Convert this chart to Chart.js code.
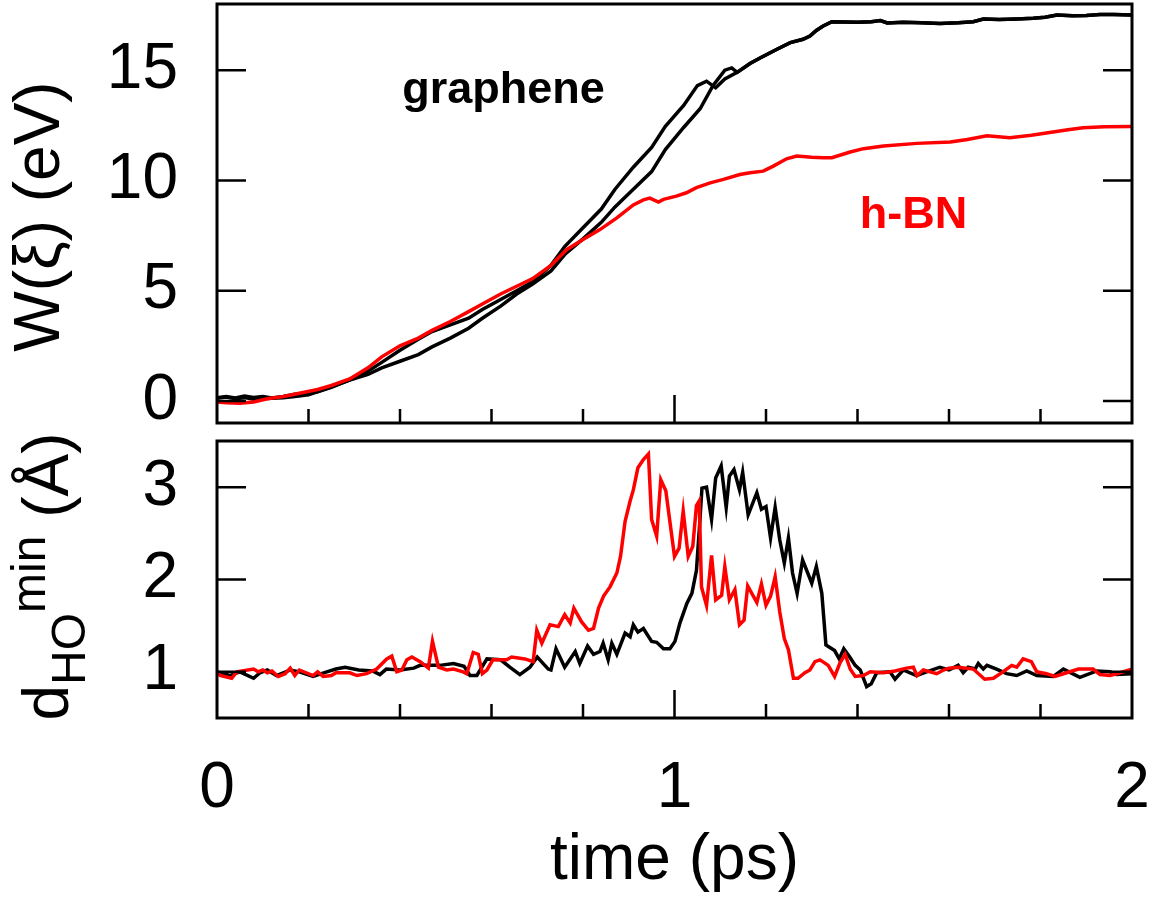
<!DOCTYPE html>
<html>
<head>
<meta charset="utf-8">
<script src="https://cdn.jsdelivr.net/npm/chart.js@4.4.1/dist/chart.umd.min.js"></script>
<style>
  body { margin: 0; background: #fff; }
  #wrap { position: relative; width: 1168px; height: 900px; }
  canvas { position: absolute; left: 0; }
</style>
</head>
<body>
<div id="wrap">
  <canvas id="wChart" width="1168" height="432" style="top:0"></canvas>
  <canvas id="dChart" width="1168" height="468" style="top:432px"></canvas>
</div>
<script>
// top panel: W(xi) for graphene (two runs) and h-BN
const wTimeGrA = [0, 0.02, 0.04, 0.06, 0.08, 0.1, 0.12, 0.145, 0.17, 0.2, 0.22, 0.25, 0.29, 0.33, 0.36, 0.40, 0.44, 0.47, 0.51, 0.55, 0.58, 0.62, 0.655, 0.69, 0.73, 0.76, 0.80, 0.84, 0.87, 0.91, 0.95, 0.98, 1.02, 1.05, 1.07, 1.09, 1.11];
const wGrA = [0.15, 0.2, 0.14, 0.22, 0.16, 0.2, 0.13, 0.2, 0.3, 0.33, 0.42, 0.62, 0.95, 1.35, 1.75, 2.3, 2.8, 3.15, 3.45, 3.75, 4.15, 4.6, 5.0, 5.4, 6.15, 7.0, 7.85, 8.7, 9.6, 10.6, 11.5, 12.45, 13.4, 14.3, 14.5, 14.2, 14.6];
const wTimeGrB = [0, 0.02, 0.04, 0.06, 0.08, 0.1, 0.12, 0.145, 0.17, 0.2, 0.22, 0.25, 0.29, 0.33, 0.36, 0.40, 0.44, 0.47, 0.51, 0.55, 0.58, 0.62, 0.655, 0.69, 0.73, 0.76, 0.80, 0.84, 0.87, 0.91, 0.95, 0.98, 1.02, 1.056, 1.084, 1.11, 1.125];
const wGrB = [0.12, 0.18, 0.1, 0.15, 0.08, 0.1, 0.12, 0.15, 0.2, 0.28, 0.42, 0.65, 0.95, 1.2, 1.5, 1.8, 2.1, 2.45, 2.85, 3.3, 3.75, 4.3, 4.85, 5.3, 5.9, 6.64, 7.35, 8.1, 8.8, 9.6, 10.4, 11.4, 12.4, 13.25, 14.3, 15.0, 15.1];
// both graphene runs follow the same path after ~1.13 ps
const wTimeGrTail = [1.137, 1.165, 1.187, 1.224, 1.253, 1.281, 1.296, 1.31, 1.325, 1.344, 1.37, 1.40, 1.43, 1.45, 1.465, 1.50, 1.54, 1.58, 1.62, 1.653, 1.675, 1.71, 1.748, 1.784, 1.81, 1.836, 1.87, 1.90, 1.93, 1.96, 2.0];
const wGrTail = [14.9, 15.3, 15.55, 15.95, 16.25, 16.4, 16.55, 16.8, 17.0, 17.2, 17.18, 17.17, 17.2, 17.25, 17.14, 17.17, 17.15, 17.12, 17.15, 17.2, 17.32, 17.3, 17.32, 17.35, 17.4, 17.5, 17.47, 17.48, 17.52, 17.52, 17.5];
const wTimeBN = [0, 0.02, 0.05, 0.08, 0.11, 0.145, 0.18, 0.22, 0.25, 0.27, 0.29, 0.33, 0.36, 0.40, 0.44, 0.47, 0.51, 0.55, 0.58, 0.62, 0.655, 0.69, 0.73, 0.764, 0.80, 0.837, 0.874, 0.91, 0.932, 0.946, 0.965, 0.976, 1.004, 1.026, 1.048, 1.078, 1.107, 1.143, 1.165, 1.194, 1.216, 1.245, 1.267, 1.30, 1.325, 1.344, 1.384, 1.413, 1.457, 1.53, 1.603, 1.64, 1.683, 1.733, 1.78, 1.82, 1.86, 1.893, 1.94, 2.0];
const wBN = [-0.05, -0.08, -0.1, -0.05, 0.1, 0.2, 0.35, 0.52, 0.7, 0.85, 1.0, 1.5, 2.0, 2.5, 2.85, 3.2, 3.6, 4.05, 4.4, 4.85, 5.2, 5.55, 6.15, 6.86, 7.32, 7.77, 8.3, 8.89, 9.12, 9.2, 9.02, 9.14, 9.29, 9.44, 9.67, 9.89, 10.05, 10.27, 10.35, 10.42, 10.65, 10.98, 11.11, 11.05, 11.03, 11.03, 11.29, 11.44, 11.56, 11.68, 11.74, 11.86, 12.02, 11.94, 12.05, 12.17, 12.3, 12.39, 12.43, 12.44];

// bottom panel: minimum H-O distance
const dTimeGr = [0, 0.028, 0.05, 0.08, 0.094, 0.11, 0.13, 0.16, 0.18, 0.21,
  0.24, 0.26, 0.28, 0.31, 0.34, 0.356, 0.37, 0.40, 0.43, 0.444,
  0.487, 0.517, 0.54, 0.553, 0.568, 0.59, 0.62, 0.64, 0.662, 0.684,
  0.70, 0.724, 0.73, 0.741, 0.76, 0.783, 0.793, 0.81, 0.823, 0.837,
  0.844, 0.855, 0.863, 0.874, 0.892, 0.903, 0.91, 0.92, 0.932, 0.95,
  0.961, 0.976, 0.99, 1.001, 1.012, 1.027, 1.038, 1.048, 1.055, 1.06,
  1.07, 1.081, 1.09, 1.102, 1.113, 1.12, 1.13, 1.142, 1.149, 1.161,
  1.18, 1.19, 1.2, 1.21, 1.22, 1.23, 1.24, 1.249, 1.258, 1.268,
  1.28, 1.3, 1.31, 1.322, 1.331, 1.35, 1.36, 1.37, 1.383, 1.395,
  1.406, 1.42, 1.43, 1.442, 1.471, 1.482, 1.5, 1.529, 1.551, 1.58,
  1.6, 1.62, 1.631, 1.642, 1.657, 1.664, 1.675, 1.683, 1.704, 1.726,
  1.748, 1.77, 1.792, 1.828, 1.85, 1.886, 1.923, 1.952, 1.966, 2.0];
const dGr = [1.0, 0.96, 1.0, 0.93, 0.99, 1.02, 0.96, 1.02, 1.0, 0.95,
  1.0, 1.03, 1.05, 1.02, 1.01, 0.97, 1.03, 1.02, 1.04, 1.07,
  1.07, 1.09, 1.06, 0.96, 0.96, 1.14, 1.13, 1.05, 0.97, 1.05,
  1.16, 1.03, 1.02, 1.25, 1.05, 1.22, 1.09, 1.28, 1.19, 1.22,
  1.31, 1.13, 1.31, 1.19, 1.42, 1.38, 1.51, 1.43, 1.47, 1.33,
  1.32, 1.25, 1.25, 1.33, 1.53, 1.74, 1.85, 2.1, 2.6, 2.99,
  3.0, 2.65, 3.1, 3.23, 2.78, 3.12, 3.19, 2.97, 3.16, 2.7,
  2.94, 2.76, 2.79, 2.45, 2.78, 2.43, 2.18, 2.45, 2.07, 1.85,
  2.21, 1.96, 2.14, 1.85, 1.29, 1.23, 1.14, 1.25, 1.16, 1.07,
  1.02, 0.84, 0.87, 0.99, 1.0, 0.92, 1.02, 0.96, 1.0, 1.05,
  1.02, 1.07, 0.99, 1.05, 1.03, 1.09, 1.03, 1.07, 1.03, 0.98,
  0.96, 1.01, 0.96, 0.95, 1.03, 0.94, 1.01, 1.0, 0.97, 0.98];
const dTimeBN = [0, 0.007, 0.032, 0.043, 0.08, 0.09, 0.10, 0.11, 0.12, 0.134,
  0.149, 0.16, 0.17, 0.18, 0.21, 0.22, 0.232, 0.25, 0.26, 0.29,
  0.306, 0.327, 0.349, 0.371, 0.382, 0.393, 0.404, 0.415, 0.426, 0.444,
  0.462, 0.471, 0.484, 0.502, 0.517, 0.538, 0.546, 0.56, 0.571, 0.58,
  0.59, 0.603, 0.633, 0.644, 0.673, 0.691, 0.699, 0.71, 0.728, 0.746,
  0.76, 0.772, 0.78, 0.797, 0.812, 0.823, 0.834, 0.845, 0.859, 0.874,
  0.882, 0.892, 0.903, 0.91, 0.92, 0.932, 0.943, 0.95, 0.961, 0.970,
  0.981, 1.0, 1.01, 1.019, 1.03, 1.04, 1.048, 1.054, 1.059, 1.07,
  1.081, 1.09, 1.103, 1.11, 1.12, 1.132, 1.142, 1.152, 1.16, 1.18,
  1.19, 1.2, 1.21, 1.22, 1.23, 1.24, 1.249, 1.26, 1.27, 1.285,
  1.296, 1.307, 1.318, 1.336, 1.35, 1.362, 1.373, 1.384, 1.395, 1.413,
  1.428, 1.457, 1.482, 1.507, 1.522, 1.53, 1.544, 1.573, 1.588, 1.6,
  1.62, 1.653, 1.678, 1.697, 1.718, 1.737, 1.748, 1.762, 1.78, 1.792,
  1.813, 1.832, 1.857, 1.883, 1.915, 1.93, 1.952, 1.974, 2.0];
const dBN = [1.0, 0.96, 0.93, 1.0, 1.03, 1.0, 1.02, 0.99, 1.01, 0.95,
  0.98, 1.04, 0.96, 1.02, 0.96, 1.0, 0.95, 0.96, 0.99, 0.99,
  0.96, 0.98, 1.03, 1.14, 1.17, 1.0, 1.02, 1.13, 1.16, 1.11,
  1.04, 1.33, 1.05, 1.02, 1.03, 1.0, 0.98, 1.21, 1.19, 0.98,
  1.02, 1.13, 1.13, 1.16, 1.14, 1.11, 1.45, 1.31, 1.51, 1.49,
  1.62, 1.53, 1.69, 1.54, 1.45, 1.47, 1.69, 1.82, 1.92, 2.07,
  2.25, 2.63, 2.85, 2.97, 3.21, 3.3, 3.36, 2.65, 2.47, 3.08,
  2.96, 2.25, 2.34, 2.74, 2.25, 2.36, 2.8, 2.85, 1.92, 1.72,
  2.26, 1.78, 1.83, 2.14, 1.78, 1.89, 1.51, 1.56, 1.93, 1.75,
  1.95, 1.72, 1.82, 2.03, 1.65, 1.36, 1.24, 0.93, 0.93, 0.99,
  1.02, 1.11, 1.13, 1.07, 0.95, 1.1, 1.19, 1.03, 0.95, 0.96,
  1.0, 0.99, 1.01, 1.04, 1.05, 0.96, 1.02, 0.98, 1.02, 1.04,
  1.05, 1.03, 0.92, 0.93, 1.0, 1.07, 1.05, 1.14, 1.11, 1.0,
  0.98, 0.95, 0.99, 1.03, 1.03, 0.97, 0.96, 0.99, 1.03];

// tick positions
const xTicks = [0, 0.2, 0.4, 0.6, 0.8, 1, 1.2, 1.4, 1.6, 1.8, 2];
const xTickLabels = ['0', '1', '2'];
const wTicks = [0, 5, 10, 15];
const dTicks = [1, 2, 3];

function toPoints(xs, ys) {
  return xs.map((x, i) => ({ x: x, y: ys[i] }));
}
function isWhole(v) {
  return Math.abs(v - Math.round(v)) < 1e-6;
}
function setTicks(values) {
  return s => { s.ticks = values.map(v => ({ value: v })); };
}

Chart.defaults.font.family = "'Liberation Sans', Arial, sans-serif";
Chart.defaults.color = '#000';

// box around the plot plus inward ticks (y on both sides, x at the bottom)
const frameTicks = {
  id: 'frameTicks',
  afterDraw(chart) {
    const { ctx, chartArea: a, scales } = chart;
    ctx.save();
    ctx.strokeStyle = '#000';
    ctx.lineWidth = 2.5;
    ctx.beginPath();
    scales.x.ticks.forEach(t => {
      const px = scales.x.getPixelForValue(t.value);
      if (px <= a.left + 2 || px >= a.right - 2) return;
      const len = isWhole(t.value) ? 28 : 14;
      ctx.moveTo(px, a.bottom);
      ctx.lineTo(px, a.bottom - len);
    });
    scales.y.ticks.forEach(t => {
      const py = scales.y.getPixelForValue(t.value);
      ctx.moveTo(a.left, py);
      ctx.lineTo(a.left + 29, py);
      ctx.moveTo(a.right, py);
      ctx.lineTo(a.right - 29, py);
    });
    ctx.stroke();
    ctx.lineWidth = 3;
    ctx.strokeRect(a.left, a.top, a.right - a.left, a.bottom - a.top);
    ctx.restore();
  }
};

const topText = {
  id: 'topText',
  afterDraw(chart) {
    const { ctx, scales } = chart;
    ctx.save();
    ctx.font = "bold 45px 'Liberation Sans', Arial, sans-serif";
    ctx.textAlign = 'left';
    ctx.textBaseline = 'alphabetic';
    ctx.fillStyle = '#000';
    ctx.fillText('graphene', scales.x.getPixelForValue(0.405), scales.y.getPixelForValue(13.5));
    ctx.fillStyle = '#ff0000';
    ctx.fillText('h-BN', scales.x.getPixelForValue(1.405), scales.y.getPixelForValue(7.86));
    // y axis title
    ctx.fillStyle = '#000';
    ctx.font = "64px 'Liberation Sans', Arial, sans-serif";
    ctx.textAlign = 'center';
    ctx.translate(59, (chart.chartArea.top + chart.chartArea.bottom) / 2 + 3);
    ctx.rotate(-Math.PI / 2);
    ctx.fillText('W(\u03BE) (eV)', 0, 0);
    ctx.restore();
  }
};

const bottomText = {
  id: 'bottomText',
  afterDraw(chart) {
    const { ctx, chartArea: a } = chart;
    const big = "64px 'Liberation Sans', Arial, sans-serif";
    const small = "48px 'Liberation Sans', Arial, sans-serif";
    const parts = [
      { t: 'd', f: big, dy: 0 },
      { t: 'HO', f: small, dy: 17 },
      { t: 'min', f: small, dy: -23 },
      { t: ' (\u00C5)', f: big, dy: 0 }
    ];
    ctx.save();
    ctx.fillStyle = '#000';
    ctx.textBaseline = 'alphabetic';
    ctx.textAlign = 'left';
    let total = 0;
    parts.forEach(p => { ctx.font = p.f; p.w = ctx.measureText(p.t).width; total += p.w; });
    ctx.translate(68, (a.top + a.bottom) / 2 - 3);
    ctx.rotate(-Math.PI / 2);
    let x = -total / 2;
    parts.forEach(p => {
      ctx.font = p.f;
      ctx.fillText(p.t, x, p.dy);
      x += p.w;
    });
    ctx.restore();
  }
};

const lineStyle = { borderWidth: 3.5, pointRadius: 0, tension: 0, fill: false };

// fixed axis sizes so both panels share the same plot width
function fixX(h) {
  return s => { s.height = h; s.paddingLeft = 0; s.paddingRight = 0; };
}
function fixY(w) {
  return s => { s.width = w; s.paddingTop = 0; s.paddingBottom = 0; };
}

new Chart(document.getElementById('wChart'), {
  type: 'line',
  data: {
    datasets: [
      Object.assign({ label: 'h-BN', data: toPoints(wTimeBN, wBN), borderColor: '#ff0000' }, lineStyle),
      Object.assign({ label: 'graphene 1', data: toPoints(wTimeGrA.concat(wTimeGrTail), wGrA.concat(wGrTail)), borderColor: '#000' }, lineStyle),
      Object.assign({ label: 'graphene 2', data: toPoints(wTimeGrB.concat(wTimeGrTail), wGrB.concat(wGrTail)), borderColor: '#000' }, lineStyle)
    ]
  },
  options: {
    responsive: false,
    animation: false,
    layout: { padding: { top: 4, right: 36, left: 0, bottom: 0 } },
    plugins: { legend: { display: false }, tooltip: { enabled: false } },
    scales: {
      x: {
        type: 'linear', min: 0, max: 2,
        afterBuildTicks: setTicks(xTicks),
        ticks: { display: false },
        grid: { display: false, drawTicks: false },
        border: { display: false },
        afterFit: fixX(9)
      },
      y: {
        min: -1, max: 18,
        afterBuildTicks: setTicks(wTicks),
        ticks: { padding: 39, font: { size: 64 }, callback: v => String(v) },
        grid: { display: false, drawTicks: false },
        border: { display: false },
        afterFit: fixY(217)
      }
    }
  },
  plugins: [frameTicks, topText]
});

new Chart(document.getElementById('dChart'), {
  type: 'line',
  data: {
    datasets: [
      Object.assign({ label: 'h-BN', data: toPoints(dTimeBN, dBN), borderColor: '#ff0000' }, lineStyle),
      Object.assign({ label: 'graphene', data: toPoints(dTimeGr, dGr), borderColor: '#000' }, lineStyle)
    ]
  },
  options: {
    responsive: false,
    animation: false,
    layout: { padding: { top: 9, right: 36, left: 0, bottom: 0 } },
    plugins: { legend: { display: false }, tooltip: { enabled: false } },
    scales: {
      x: {
        type: 'linear', min: 0, max: 2,
        afterBuildTicks: setTicks(xTicks),
        ticks: {
          padding: 33, autoSkip: false, maxRotation: 0, font: { size: 64 },
          callback: v => (isWhole(v) ? xTickLabels[Math.round(v)] : '')
        },
        title: { display: true, text: 'time (ps)', font: { size: 64 }, padding: { top: 0, bottom: 0 } },
        grid: { display: false, drawTicks: false },
        border: { display: false },
        afterFit: fixX(182)
      },
      y: {
        min: 0.5, max: 3.5,
        afterBuildTicks: setTicks(dTicks),
        ticks: { padding: 39, font: { size: 64 }, callback: v => String(v) },
        grid: { display: false, drawTicks: false },
        border: { display: false },
        afterFit: fixY(217)
      }
    }
  },
  plugins: [frameTicks, bottomText]
});
</script>
</body>
</html>
